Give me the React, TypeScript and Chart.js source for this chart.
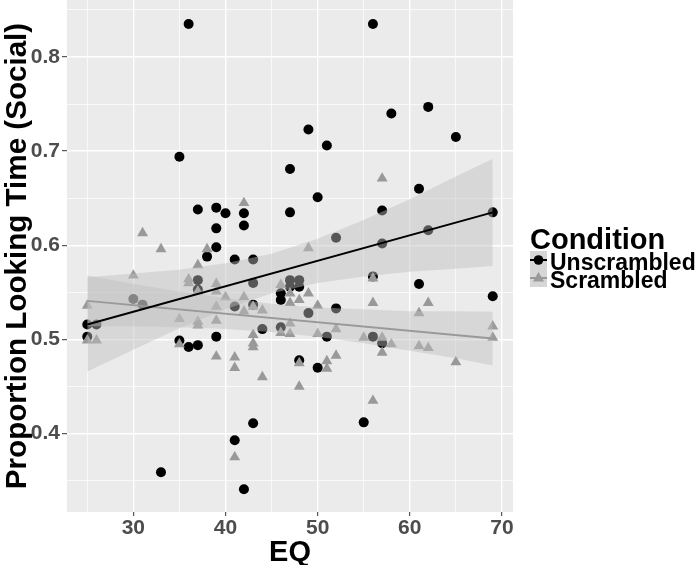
import React, { useEffect, useRef } from "react";
import { Chart, registerables } from "chart.js";

Chart.register(...registerables);

const FONT = "'Liberation Sans', Arial, Helvetica, sans-serif";

// Unscrambled condition (black circles)
const unscrambledEQ = [25,25,26,30,31,33,35,35,36,36,37,37,37,37,38,39,39,39,39,40,41,41,41,42,42,42,43,43,43,43,44,46,46,46,47,47,47,47,48,48,48,49,49,50,50,51,51,52,52,55,56,56,56,57,57,57,58,61,61,62,62,65,69,69];
const unscrambledProp = [0.516,0.503,0.516,0.543,0.537,0.359,0.694,0.499,0.835,0.492,0.638,0.563,0.553,0.494,0.588,0.640,0.618,0.598,0.503,0.634,0.585,0.535,0.393,0.634,0.621,0.341,0.585,0.560,0.537,0.411,0.511,0.549,0.542,0.513,0.681,0.635,0.563,0.556,0.563,0.556,0.478,0.723,0.528,0.651,0.470,0.706,0.503,0.608,0.533,0.412,0.835,0.567,0.503,0.637,0.602,0.496,0.740,0.660,0.559,0.747,0.616,0.715,0.635,0.546];

// Scrambled condition (grey triangles)
const scrambledEQ = [25,25,26,30,31,33,35,35,36,36,37,37,37,37,38,39,39,39,39,39,40,41,41,41,42,42,42,43,43,43,43,44,44,46,46,47,47,47,47,48,48,48,49,49,50,50,51,51,52,52,55,56,56,56,57,57,57,58,61,61,62,62,65,69,69];
const scrambledProp = [0.536,0.499,0.499,0.568,0.613,0.596,0.522,0.495,0.564,0.560,0.579,0.551,0.519,0.515,0.596,0.559,0.551,0.535,0.520,0.482,0.545,0.481,0.470,0.375,0.645,0.545,0.530,0.535,0.505,0.496,0.492,0.531,0.460,0.558,0.507,0.549,0.539,0.517,0.506,0.542,0.475,0.450,0.597,0.549,0.536,0.506,0.477,0.469,0.511,0.483,0.502,0.565,0.539,0.435,0.671,0.502,0.486,0.495,0.528,0.493,0.539,0.491,0.476,0.514,0.502];

// Fitted regression lines (end points)
const fitEQ = [25, 69];
const unscrambledFit = [0.516, 0.635];
const scrambledFit = [0.541, 0.501];

// Confidence bands
const bandEQ = [25, 30, 35, 40, 45, 50, 55, 60, 65, 69];
const unscrambledLower = [0.466, 0.489, 0.512, 0.532, 0.549, 0.560, 0.567, 0.572, 0.575, 0.578];
const unscrambledUpper = [0.566, 0.570, 0.574, 0.581, 0.591, 0.607, 0.627, 0.649, 0.673, 0.692];
const scrambledLower = [0.514, 0.514, 0.513, 0.511, 0.508, 0.503, 0.496, 0.488, 0.480, 0.4725];
const scrambledUpper = [0.568, 0.559, 0.551, 0.544, 0.538, 0.534, 0.532, 0.530, 0.530, 0.5295];

// Axes
const xRange = [22.8, 71.2];
const yRange = [0.3168, 0.8605];
const xMajorTicks = [30, 40, 50, 60, 70];
const xMinorTicks = [25, 35, 45, 55, 65];
const yMajorTicks = [0.4, 0.5, 0.6, 0.7, 0.8];
const yMinorTicks = [0.35, 0.45, 0.55, 0.65, 0.75, 0.85];

const legendTitle = "Condition";
const legendLabels = ["Unscrambled", "Scrambled"];

const BAND_FILL = "rgba(190,190,190,0.45)";
const GREY = "#999999";

const zip = (xs: number[], ys: number[]) => xs.map((x, i) => ({ x, y: ys[i] }));

const panelBg = {
  id: "panelBg",
  beforeDraw(chart: any) {
    const { ctx, chartArea } = chart;
    ctx.save();
    ctx.fillStyle = "#EBEBEB";
    ctx.fillRect(chartArea.left, chartArea.top, chartArea.right - chartArea.left, chartArea.bottom - chartArea.top);
    ctx.restore();
  },
};

function Legend() {
  const keyBox = (i: number) => {
    const top = 250.5 + i * 18;
    return (
      <svg key={i} width={17} height={18} style={{ position: "absolute", left: 530, top }}>
        <rect x={0} y={0} width={17} height={18} fill="#D6D6D6" />
        <line x1={0} x2={17} y1={9} y2={9} stroke={i === 0 ? "#000" : GREY} strokeWidth={2} />
        {i === 0 ? (
          <circle cx={8.5} cy={9} r={4.8} fill="#000" />
        ) : (
          <polygon points="8.5,3 14,12.5 3,12.5" fill={GREY} />
        )}
      </svg>
    );
  };
  return (
    <>
      <div style={{ position: "absolute", left: 530, top: 225, fontFamily: FONT, fontWeight: "bold", fontSize: 29, lineHeight: "29px", color: "#000", whiteSpace: "nowrap" }}>{legendTitle}</div>
      {legendLabels.map((_, i) => keyBox(i))}
      {legendLabels.map((t, i) => (
        <div key={"t" + i} style={{ position: "absolute", left: 550, top: 250.5 + i * 18.3, fontFamily: FONT, fontWeight: "bold", fontSize: 23, lineHeight: "23px", color: "#000", whiteSpace: "nowrap" }}>{t}</div>
      ))}
    </>
  );
}

export default function App() {
  const ref = useRef<HTMLCanvasElement>(null);
  useEffect(() => {
    document.body.style.margin = "0";
    const canvas = ref.current!;
    const isXMajor = (v: number) => xMajorTicks.some((t) => Math.abs(t - v) < 1e-9);
    const isYMajor = (v: number) => yMajorTicks.some((t) => Math.abs(t - v) < 1e-9);
    const tickFont = (major: boolean) => ({ family: FONT, size: major ? 21 : 1, weight: "bold" });
    const lineDs = (data: any[], extra: any) => ({
      type: "line",
      data,
      pointRadius: 0,
      pointHoverRadius: 0,
      tension: 0,
      borderWidth: 0,
      borderColor: "rgba(0,0,0,0)",
      fill: false,
      ...extra,
    });
    const chart = new Chart(canvas, {
      type: "scatter",
      data: {
        datasets: [
          {
            label: "Unscrambled",
            data: zip(unscrambledEQ, unscrambledProp),
            pointStyle: "circle",
            pointRadius: 5,
            pointBackgroundColor: "#000",
            pointBorderWidth: 0,
            pointBorderColor: "#000",
            order: 6,
          },
          {
            label: "Scrambled",
            data: zip(scrambledEQ, scrambledProp),
            pointStyle: "triangle",
            pointRadius: 6.3,
            pointBackgroundColor: GREY,
            pointBorderWidth: 0,
            pointBorderColor: GREY,
            order: 5,
          },
          lineDs(zip(bandEQ, unscrambledUpper), { fill: "+1", backgroundColor: BAND_FILL, order: 3 }),
          lineDs(zip(bandEQ, unscrambledLower), { order: 3 }),
          lineDs(zip(bandEQ, scrambledUpper), { fill: "+1", backgroundColor: BAND_FILL, order: 3 }),
          lineDs(zip(bandEQ, scrambledLower), { order: 3 }),
          lineDs(zip(fitEQ, unscrambledFit), { borderWidth: 2, borderColor: "#000", order: 1 }),
          lineDs(zip(fitEQ, scrambledFit), { borderWidth: 2, borderColor: GREY, order: 1 }),
        ] as any,
      },
      options: {
        responsive: false,
        animation: false,
        devicePixelRatio: 1,
        events: [],
        layout: { autoPadding: false, padding: { left: 0, top: 0, right: 187, bottom: 0 } },
        plugins: { legend: { display: false }, tooltip: { enabled: false } },
        scales: {
          x: {
            type: "linear",
            min: xRange[0],
            max: xRange[1],
            afterBuildTicks: (s: any) => {
              s.ticks = [...xMinorTicks, ...xMajorTicks].sort((a, b) => a - b).map((v) => ({ value: v }));
            },
            afterFit: (s: any) => {
              s.height = 53;
              s.paddingLeft = 0;
              s.paddingRight = 0;
            },
            border: { display: false },
            grid: {
              color: "#FFFFFF",
              lineWidth: (c: any) => (c.tick && isXMajor(c.tick.value) ? 1.4 : 0.7),
              tickColor: (c: any) => (c.tick && isXMajor(c.tick.value) ? "#333333" : "rgba(0,0,0,0)"),
              tickWidth: 1,
              tickLength: 4,
            },
            ticks: {
              autoSkip: false,
              maxRotation: 0,
              padding: 0,
              color: "#4D4D4D",
              font: (c: any) => tickFont(!!(c.tick && isXMajor(c.tick.value))),
              callback: (v: any) => (isXMajor(Number(v)) ? String(v) : ""),
            },
            title: {
              display: true,
              text: "EQ",
              color: "#000",
              font: { family: FONT, size: 29, weight: "bold", lineHeight: "24px" },
              padding: { top: 0, bottom: 0 },
            },
          },
          y: {
            type: "linear",
            min: yRange[0],
            max: yRange[1],
            afterBuildTicks: (s: any) => {
              s.ticks = [...yMinorTicks, ...yMajorTicks].sort((a, b) => a - b).map((v) => ({ value: v }));
            },
            afterFit: (s: any) => {
              s.width = 67;
              s.paddingTop = 0;
              s.paddingBottom = 0;
            },
            border: { display: false },
            grid: {
              color: "#FFFFFF",
              lineWidth: (c: any) => (c.tick && isYMajor(c.tick.value) ? 1.4 : 0.7),
              tickColor: (c: any) => (c.tick && isYMajor(c.tick.value) ? "#333333" : "rgba(0,0,0,0)"),
              tickWidth: 1,
              tickLength: 5,
            },
            ticks: {
              autoSkip: false,
              padding: 2,
              color: "#4D4D4D",
              font: (c: any) => tickFont(!!(c.tick && isYMajor(c.tick.value))),
              callback: (v: any) => (isYMajor(Number(v)) ? Number(v).toFixed(1) : ""),
            },
            title: {
              display: true,
              text: "Proportion Looking Time (Social)",
              color: "#000",
              font: { family: FONT, size: 29.6, weight: "bold", lineHeight: 1.2 },
              padding: { top: 0, bottom: 0 },
            },
          },
        },
      },
      plugins: [panelBg],
    } as any);
    return () => chart.destroy();
  }, []);

  return (
    <div style={{ position: "relative", width: 700, height: 565, background: "#FFFFFF", overflow: "hidden" }}>
      <canvas ref={ref} width={700} height={565} style={{ position: "absolute", left: 0, top: 0, width: 700, height: 565 }} />
      <Legend />
    </div>
  );
}
